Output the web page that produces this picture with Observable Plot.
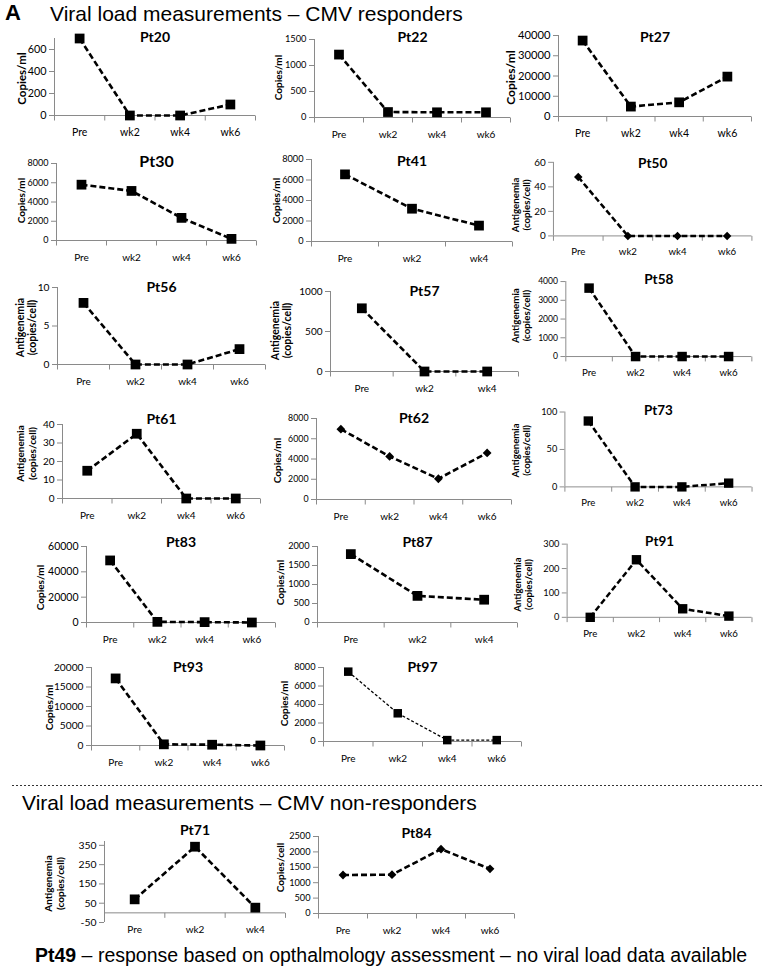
<!DOCTYPE html>
<html>
<head>
<meta charset="utf-8">
<script src="https://cdn.jsdelivr.net/npm/d3@7"></script>
<script src="https://cdn.jsdelivr.net/npm/@observablehq/plot@0.6"></script>
<style>
  body { margin: 0; background: #fff; }
  #fig { position: relative; width: 765px; height: 971px; overflow: hidden; background: #fff;
         font-family: "Liberation Sans", Arial, sans-serif; color: #000; }
  .panel { position: absolute; }
  .panel svg { overflow: visible; }
  .head { position: absolute; white-space: nowrap; line-height: 1; }
  .sep { position: absolute; left: 12px; top: 785px; width: 750px; height: 1px;
         background: repeating-linear-gradient(to right, #333 0 2px, transparent 2px 4px); }
</style>
</head>
<body>
<div id="fig">
  <div class="head" style="left:5px;top:2px;font-size:22px;font-weight:bold;">A</div>
  <div class="head" style="left:50px;top:3px;font-size:21px;">Viral load measurements – CMV responders</div>
  <div class="sep"></div>
  <div class="head" style="left:22px;top:792px;font-size:21px;">Viral load measurements – CMV non-responders</div>
  <div class="head" style="left:35px;top:946px;font-size:19.5px;"><b>Pt49</b> – response based on opthalmology assessment – no viral load data available</div>
</div>
<script>
// ---------------- data ----------------
const patients = ["Pt20","Pt22","Pt27","Pt30","Pt41","Pt50","Pt56","Pt57","Pt58","Pt61",
                  "Pt62","Pt73","Pt83","Pt87","Pt91","Pt93","Pt97","Pt71","Pt84"];
const weeks4 = ["Pre","wk2","wk4","wk6"];
const weeks3 = ["Pre","wk2","wk4"];

const pt20 = [700, 0, 0, 100];
const pt22 = [1210, 105, 100, 100];
const pt27 = [37500, 4900, 7000, 19700];
const pt30 = [5800, 5150, 2350, 170];
const pt41 = [6550, 3200, 1550];
const pt50 = [48, 0, 0, 0];
const pt56 = [8, 0, 0, 2];
const pt57 = [790, 0, 0];
const pt58 = [3650, 0, 0, 0];
const pt61 = [15, 35, 0, 0];
const pt62 = [6950, 4250, 2050, 4600];
const pt73 = [88, 0, 0, 5];
const pt83 = [49000, 500, 300, 0];
const pt87 = [1800, 700, 600];
const pt91 = [0, 236, 35, 5];
const pt93 = [17200, 300, 200, 0];
const pt97 = [7550, 3050, 150, 150];
const pt71 = [70, 343, 27];
const pt84 = [1250, 1260, 2090, 1450];

const viralLoads = [pt20, pt22, pt27, pt30, pt41, pt50, pt56, pt57, pt58, pt61,
                    pt62, pt73, pt83, pt87, pt91, pt93, pt97, pt71, pt84];
const timepoints = [weeks4, weeks4, weeks4, weeks4, weeks3, weeks4, weeks4, weeks3, weeks4, weeks4,
                    weeks4, weeks4, weeks4, weeks3, weeks4, weeks4, weeks4, weeks3, weeks4];

const COP = "Copies/ml", ANT = "Antigenemia\n(copies/cell)", CPC = "Copies/cell";
const yTitles = [COP, COP, COP, COP, COP, ANT, ANT, ANT, ANT, ANT,
                 COP, ANT, COP, COP, ANT, COP, COP, ANT, CPC];

const yDomains = [[0,700],[0,1500],[0,40000],[0,8000],[0,8000],[0,60],[0,10],[0,1000],[0,4000],[0,40],
                  [0,8000],[0,100],[0,60000],[0,2000],[0,300],[0,20000],[0,8000],[-50,370],[0,2500]];
const yTicks = [
  [0,200,400,600], [0,500,1000,1500], [0,10000,20000,30000,40000],
  [0,2000,4000,6000,8000], [0,2000,4000,6000,8000], [0,20,40,60],
  [0,5,10], [0,500,1000], [0,1000,2000,3000,4000],
  [0,10,20,30,40], [0,2000,4000,6000,8000], [0,50,100],
  [0,20000,40000,60000], [0,500,1000,1500,2000], [0,100,200,300],
  [0,5000,10000,15000,20000], [0,2000,4000,6000,8000],
  [-50,50,150,250,350], [0,500,1000,1500,2000,2500]
];
const markerShapes = ["square","square","square","square","square","diamond","square","square","square","square",
                      "diamond","square","square","square","square","square","square","square","diamond"];

// ---------------- layout (pixel positions of each panel frame: left, right, top, bottom) ----------------
const frames = [
  [54,255,38,115], [314,510,39,117], [558,751,35,116],
  [56,256,163,240], [311,512,159,241], [555,760,163,239],
  [57,265,287,364], [330,518,291,371], [567,758,282,359],
  [62,260,424,498], [316,511,418,499], [567,762,413,491],
  [86,275,546,622], [317,517,546,622], [569,761,545,621],
  [91,284,667,745], [323,521,667,741],
  [104,285,841,922], [318,514,836,913]
];
const titleY = [37,37,37, 161,161,164, 287,291,280, 419,418,412, 542,542,542, 667,667, 830,833];
const yTitlePos = [[21,78],[278,77],[510,77],[21,200],[276,200],[521,207],[26,327],[281,330],[521,317],
                   [26,453],[277,460],[521,453],[40,587],[280,582],[523,587],[49,707],[284,703],[54,883],[280,867]];
const tickFont = [10.8,9.3,11.2, 9,9.2,10.2, 10.2,10,8.8, 10,8.8,9.6, 10.5,9.2,9.6, 10.2,9.2, 10.4,9.2];
const xFont = [10.5,10,10.5, 10,10,10, 10,10,10, 10,10,10, 10,10,10, 10,10, 10,10];
const yTitleFont = [11.5,10,12, 10,10,10, 10.5,10.5,10, 10,10,10, 10,10,10, 10,10, 10,10];
const titleFont = [14,14,14, 16,14,14, 14,14,14, 14,14,14, 14,14,14, 14,14, 14,14];
const xLabelPad = [13,13,13, 13,13,13, 13,13,13, 13,13,13, 13,13,13, 13,13, 3,13];
const thinLine = [false,false,false,false,false,false,false,false,false,false,
                  false,false,false,false,false,false,true,false,false];

const AXIS = "#8a8a8a";
const M = {l: 64, r: 14, t: 36, b: 34};

const tickDown = { draw(ctx) { ctx.moveTo(0, 0); ctx.lineTo(0, 5); } };
const diamond = { draw(ctx, size) {
  const h = Math.sqrt(size / Math.PI);
  ctx.moveTo(0, -h); ctx.lineTo(h, 0); ctx.lineTo(0, h); ctx.lineTo(-h, 0); ctx.closePath();
} };

const fig = document.getElementById("fig");

patients.forEach((name, k) => {
  const cats = timepoints[k];
  const vals = viralLoads[k];
  const [L, R, T, B] = frames[k];
  const n = cats.length;
  const data = cats.map((c, i) => ({i, c, v: vals[i]}));
  const bounds = d3.range(n + 1).map(j => j - 0.5);
  const fs = tickFont[k];
  const [lx, ly] = yTitlePos[k];
  const thin = thinLine[k];
  const isDiamond = markerShapes[k] === "diamond";

  const svg = Plot.plot({
    width: (R - L) + M.l + M.r,
    height: (B - T) + M.t + M.b,
    marginLeft: M.l, marginRight: M.r, marginTop: M.t, marginBottom: M.b,
    x: {type: "linear", domain: [-0.5, n - 0.5]},
    y: {type: "linear", domain: yDomains[k]},
    style: {fontFamily: "Lato, 'Open Sans', sans-serif", fontSize: "10px", color: "#000",
            background: "transparent", overflow: "visible"},
    marks: [
      Plot.axisY({ticks: yTicks[k], tickFormat: d => String(d), tickSize: 5, tickPadding: 3,
                  stroke: AXIS, fontSize: fs, label: null}),
      Plot.axisX({ticks: d3.range(n), tickFormat: i => cats[i], tickSize: 0, tickPadding: xLabelPad[k],
                  fontSize: xFont[k], label: null}),
      Plot.ruleX([-0.5], {stroke: AXIS, strokeWidth: 1}),
      Plot.ruleY([0], {stroke: AXIS, strokeWidth: 1}),
      Plot.dot(bounds, {x: d => d, y: () => 0, symbol: tickDown, stroke: AXIS, fill: "none", strokeWidth: 1}),
      Plot.line(data, {x: "i", y: "v", stroke: "#000", strokeWidth: thin ? 1.3 : 2.6,
                       strokeDasharray: thin ? "3,2" : "6,3", strokeLinecap: "butt"}),
      Plot.dot(data, {x: "i", y: "v", symbol: isDiamond ? diamond : "square", fill: "#000", stroke: "none",
                      r: isDiamond ? 4.4 : (thin ? 4.8 : 5.5)}),
      Plot.text([name], {frameAnchor: "top", dy: titleY[k] - T, fontWeight: "bold", fontSize: titleFont[k],
                         fill: "#000", textAnchor: "middle", lineAnchor: "middle"}),
      Plot.text([yTitles[k]], {frameAnchor: "left", rotate: -90, dx: lx - L, dy: ly - (T + B) / 2,
                               textAnchor: "middle", lineAnchor: "middle",
                               fontWeight: "bold", fontSize: yTitleFont[k], lineHeight: 1.15, fill: "#000"})
    ]
  });
  const div = document.createElement("div");
  div.className = "panel";
  div.style.left = (L - M.l) + "px";
  div.style.top = (T - M.t) + "px";
  div.appendChild(svg);
  fig.appendChild(div);
});
</script>
</body>
</html>
